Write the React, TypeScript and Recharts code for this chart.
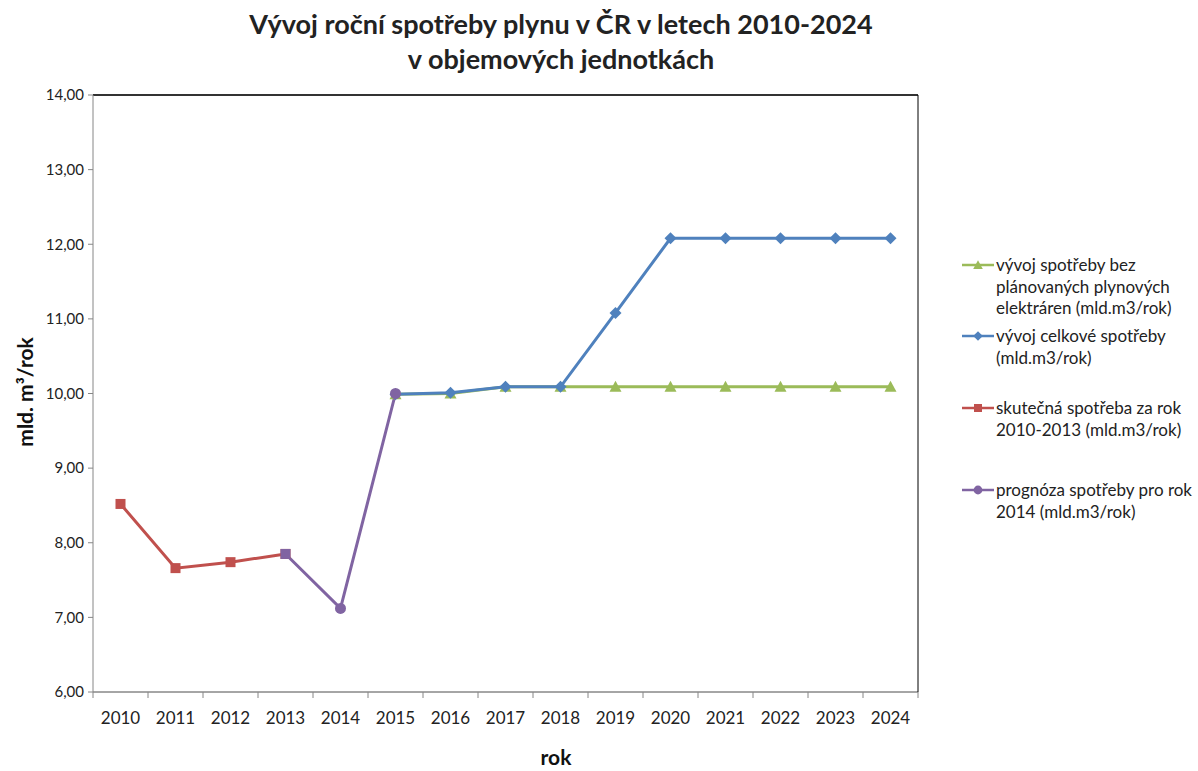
import React from 'react';
import { LineChart, Line, XAxis, YAxis, CartesianGrid, ReferenceLine } from 'recharts';

const years = ['2010', '2011', '2012', '2013', '2014', '2015', '2016', '2017', '2018', '2019', '2020', '2021', '2022', '2023', '2024'];
const bezElektraren = [null, null, null, null, null, 9.99, 10.0, 10.09, 10.09, 10.09, 10.09, 10.09, 10.09, 10.09, 10.09];
const celkova = [null, null, null, null, null, 9.99, 10.01, 10.09, 10.09, 11.08, 12.08, 12.08, 12.08, 12.08, 12.08];
const skutecna = [8.52, 7.66, 7.74, 7.85, null, null, null, null, null, null, null, null, null, null, null];
const prognoza = [null, null, null, 7.85, 7.12, 10.0, null, null, null, null, null, null, null, null, null];
const yTicks = [6, 7, 8, 9, 10, 11, 12, 13, 14];

const legendItems = [
  { key: 'green', color: '#9BBB59', shape: 'triangle', lines: ['vývoj spotřeby bez', 'plánovaných plynových', 'elektráren (mld.m3/rok)'], top: 0 },
  { key: 'blue', color: '#4F81BD', shape: 'diamond', lines: ['vývoj celkové spotřeby', '(mld.m3/rok)'], top: 71 },
  { key: 'red', color: '#C0504D', shape: 'square', lines: ['skutečná spotřeba za rok', '2010-2013 (mld.m3/rok)'], top: 143 },
  { key: 'purple', color: '#8064A2', shape: 'circle', lines: ['prognóza spotřeby pro rok', '2014 (mld.m3/rok)'], top: 225 },
];

const data = years.map((year, i) => ({
  year,
  green: bezElektraren[i],
  blue: celkova[i],
  red: skutecna[i],
  purple: prognoza[i],
}));

const FONT = 'Lato, "Open Sans", sans-serif';
const PLOT_LEFT = 93;
const PLOT_RIGHT = 918;
const HALF_BAND = (PLOT_RIGHT - PLOT_LEFT) / years.length / 2;

const marker = (shape: string, color: string, cx: number, cy: number, key?: any, s = 1) => {
  if (cx == null || cy == null) return <g key={key} />;
  if (shape === 'triangle')
    return <path key={key} d={`M${cx},${cy - 6 * s} L${cx + 6 * s},${cy + 5 * s} L${cx - 6 * s},${cy + 5 * s} Z`} fill={color} />;
  if (shape === 'diamond')
    return <path key={key} d={`M${cx},${cy - 6 * s} L${cx + 6 * s},${cy} L${cx},${cy + 6 * s} L${cx - 6 * s},${cy} Z`} fill={color} />;
  if (shape === 'square') return <rect key={key} x={cx - 5 * s} y={cy - 5 * s} width={10 * s} height={10 * s} fill={color} />;
  return <circle key={key} cx={cx} cy={cy} r={5.5 * s} fill={color} />;
};

const XTick = (props: any) => {
  const { x, y, payload, index } = props;
  return (
    <g>
      <line x1={x - HALF_BAND} y1={y} x2={x - HALF_BAND} y2={y + 6} stroke="#868686" />
      {index === years.length - 1 && <line x1={x + HALF_BAND} y1={y} x2={x + HALF_BAND} y2={y + 6} stroke="#868686" />}
      <text x={x} y={y + 32} textAnchor="middle" fontSize={17} fill="#222" fontFamily={FONT}>
        {payload.value}
      </text>
    </g>
  );
};

export default function App() {
  return (
    <div style={{ position: 'absolute', left: 0, top: 0, width: 1198, height: 771, background: '#fff', fontFamily: FONT }}>
      <div
        style={{
          position: 'absolute',
          left: 0,
          top: 6,
          width: 1122,
          textAlign: 'center',
          fontWeight: 'bold',
          fontSize: 27,
          lineHeight: '35px',
          color: '#222',
        }}
      >
        <div>Vývoj roční spotřeby plynu v ČR v letech 2010-2024</div>
        <div>v objemových jednotkách</div>
      </div>
      <LineChart width={1198} height={771} data={data} margin={{ top: 95, right: 279, bottom: 39, left: 18 }}>
        <CartesianGrid vertical={false} stroke="#8c8c8c" strokeWidth={1} />
        <XAxis
          dataKey="year"
          stroke="#868686"
          tickLine={false}
          tickSize={0}
          tickMargin={0}
          height={40}
          tick={<XTick />}
          interval={0}
          padding={{ left: HALF_BAND, right: HALF_BAND }}
        />
        <YAxis
          yAxisId="left"
          width={75}
          domain={[6, 14]}
          ticks={yTicks}
          type="number"
          stroke="#868686"
          tickSize={5}
          tickMargin={4}
          tick={{ fill: '#222', fontSize: 15, fontFamily: FONT }}
          tickFormatter={(v: number) => v.toFixed(2).replace('.', ',')}
        />
        <YAxis yAxisId="right" orientation="right" width={1} domain={[6, 14]} stroke="#000" tick={false} tickLine={false} />
        <ReferenceLine yAxisId="left" y={14} stroke="#000" strokeWidth={1.5} />
        <Line
          yAxisId="left"
          dataKey="green"
          stroke="#9BBB59"
          strokeWidth={3}
          isAnimationActive={false}
          dot={(p: any) => marker('triangle', '#9BBB59', p.cx, p.cy, p.key)}
          activeDot={false}
        />
        <Line
          yAxisId="left"
          dataKey="blue"
          stroke="#4F81BD"
          strokeWidth={3}
          isAnimationActive={false}
          dot={(p: any) => marker('diamond', '#4F81BD', p.cx, p.cy, p.key)}
          activeDot={false}
        />
        <Line
          yAxisId="left"
          dataKey="red"
          stroke="#C0504D"
          strokeWidth={3}
          isAnimationActive={false}
          dot={(p: any) => marker('square', '#C0504D', p.cx, p.cy, p.key)}
          activeDot={false}
        />
        <Line
          yAxisId="left"
          dataKey="purple"
          stroke="#8064A2"
          strokeWidth={3}
          isAnimationActive={false}
          dot={(p: any) =>
            marker(p.payload && p.payload.year === '2013' ? 'square' : 'circle', '#8064A2', p.cx, p.cy, p.key)
          }
          activeDot={false}
        />
      </LineChart>
      <div
        style={{
          position: 'absolute',
          left: 10,
          top: 392,
          transform: 'translate(-50%, -50%) rotate(-90deg)',
          marginLeft: 14,
          fontWeight: 'bold',
          fontSize: 21,
          color: '#111',
          whiteSpace: 'nowrap',
        }}
      >
        mld. m³/rok
      </div>
      <div
        style={{
          position: 'absolute',
          left: 556,
          top: 745,
          transform: 'translateX(-50%)',
          fontWeight: 'bold',
          fontSize: 21,
          lineHeight: '24px',
          color: '#111',
        }}
      >
        rok
      </div>
      <div style={{ position: 'absolute', left: 960, top: 255, width: 236, fontSize: 17, color: '#222' }}>
        {legendItems.map((it) => (
          <div key={it.key} style={{ position: 'absolute', top: it.top, left: 0, display: 'flex' }}>
            <svg width={36} height={20} style={{ flex: 'none' }}>
              <line x1={2} y1={10} x2={34} y2={10} stroke={it.color} strokeWidth={2.5} />
              {marker(it.shape, it.color, 18, 10, undefined, 0.8)}
            </svg>
            <div style={{ lineHeight: '21.5px', marginTop: -1, whiteSpace: 'nowrap' }}>
              {it.lines.map((l, i) => (
                <div key={i}>{l}</div>
              ))}
            </div>
          </div>
        ))}
      </div>
    </div>
  );
}
